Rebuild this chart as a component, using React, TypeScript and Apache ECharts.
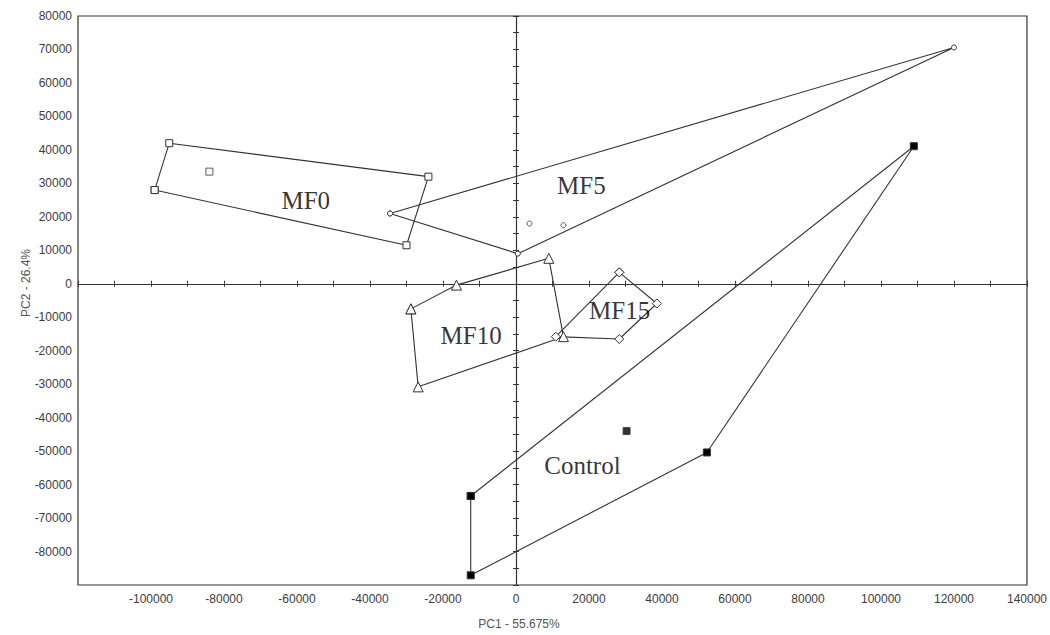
import React, { useEffect, useRef } from "react";
import * as echarts from "echarts";

// PC1 / PC2 scores
const mf0Hull = [[-99000, 28000], [-95000, 42000], [-24000, 32000], [-30000, 11500], [-99000, 28000]];
const mf0Inner = [[-84000, 33500]];
const mf5Hull = [[-34500, 21000], [120000, 70600], [500, 9000], [-34500, 21000]];
const mf5Inner = [[3700, 18000], [13000, 17500]];
const mf10Hull = [[-28800, -7500], [-16300, -400], [9000, 7600], [13000, -15800], [-26800, -30800], [-28800, -7500]];
const mf15Hull = [[28300, 3400], [38600, -5900], [28300, -16500], [10900, -15800], [28300, 3400]];
const controlHull = [[-12400, -63400], [109000, 41100], [52300, -50400], [-12400, -87100], [-12400, -63400]];
const controlInner = [[30300, -44000]];

const groupNames = ["MF0", "MF5", "MF10", "MF15", "Control"];
const groupLabelPos = [[-57600, 24900], [17900, 29300], [-12300, -15500], [28400, -8000], [18200, -54200]];

const xName = "PC1 - 55.675%";
const yName = "PC2 - 26.4%";
const xMin = -120000, xMax = 140000;
const yMin = -90000, yMax = 80000;

const LINE = "#333";
const LABEL = "#3c3c3c";

export default function App() {
  const ref = useRef<HTMLDivElement>(null);
  useEffect(() => {
    if (!ref.current) return;
    const chart = echarts.init(ref.current, undefined, { renderer: "svg" });

    const baseX = { type: "value", min: xMin, max: xMax, gridIndex: 0 };
    const baseY = { type: "value", min: yMin, max: yMax, gridIndex: 0 };
    const plain = (v: number) => String(v);

    const hullSeries = (name: string, data: number[][], symbol: string, size: number, fill: string) => ({
      name,
      type: "line",
      data,
      symbol,
      symbolSize: size,
      showAllSymbol: true,
      lineStyle: { color: LINE, width: 1.1 },
      itemStyle: { color: fill, borderColor: LINE, borderWidth: 1 },
      z: 5,
    });
    const innerSeries = (name: string, data: number[][], symbol: string, size: number, fill: string) => ({
      name: name + "-in",
      type: "scatter",
      data,
      symbol,
      symbolSize: size,
      itemStyle: { color: fill, borderColor: LINE, borderWidth: 1 },
      z: 5,
    });

    const option: any = {
      animation: false,
      backgroundColor: "#fff",
      grid: {
        left: 78, right: 22, top: 16, bottom: 50,
        show: true, borderColor: "#333", borderWidth: 1.2, backgroundColor: "transparent",
      },
      xAxis: [
        {
          ...baseX,
          interval: 20000,
          position: "bottom",
          axisLine: { show: false, onZero: false },
          axisTick: { show: false },
          splitLine: { show: false },
          axisLabel: { showMinLabel: false, formatter: plain, color: LABEL, fontFamily: "Liberation Sans, Arial", fontSize: 12, margin: 8 },
        },
        {
          ...baseX,
          interval: 10000,
          position: "bottom",
          axisLine: { show: true, onZero: true, onZeroAxisIndex: 0, lineStyle: { color: LINE, width: 1.2 } },
          axisTick: { show: true, inside: true, length: 3, lineStyle: { color: LINE } },
          axisLabel: { show: false },
          splitLine: { show: false },
        },
        {
          ...baseX,
          interval: 10000,
          position: "bottom",
          axisLine: { show: false, onZero: true, onZeroAxisIndex: 0 },
          axisTick: { show: true, inside: false, length: 3, lineStyle: { color: LINE } },
          axisLabel: { show: false },
          splitLine: { show: false },
        },
      ],
      yAxis: [
        {
          ...baseY,
          interval: 10000,
          position: "left",
          axisLine: { show: false, onZero: false },
          axisTick: { show: false },
          splitLine: { show: false },
          axisLabel: { showMinLabel: false, formatter: plain, color: LABEL, fontFamily: "Liberation Sans, Arial", fontSize: 12, margin: 6 },
        },
        {
          ...baseY,
          interval: 5000,
          position: "left",
          axisLine: { show: true, onZero: true, onZeroAxisIndex: 0, lineStyle: { color: LINE, width: 1.2 } },
          axisTick: { show: true, inside: true, length: 3, lineStyle: { color: LINE } },
          axisLabel: { show: false },
          splitLine: { show: false },
        },
        {
          ...baseY,
          interval: 5000,
          position: "left",
          axisLine: { show: false, onZero: true, onZeroAxisIndex: 0 },
          axisTick: { show: true, inside: false, length: 3, lineStyle: { color: LINE } },
          axisLabel: { show: false },
          splitLine: { show: false },
        },
      ],
      series: [
        hullSeries("MF0", mf0Hull, "rect", 7, "#fff"),
        innerSeries("MF0", mf0Inner, "rect", 7, "#fff"),
        hullSeries("MF5", mf5Hull, "circle", 5, "#fff"),
        innerSeries("MF5", mf5Inner, "circle", 5, "#fff"),
        hullSeries("MF10", mf10Hull, "triangle", 10, "#fff"),
        hullSeries("MF15", mf15Hull, "diamond", 9, "#fff"),
        hullSeries("Control", controlHull, "rect", 7, "#000"),
        innerSeries("Control", controlInner, "rect", 7, "#000"),
        {
          name: "labels",
          type: "scatter",
          symbolSize: 0,
          data: groupNames.map((n, i) => ({ name: n, value: groupLabelPos[i] })),
          itemStyle: { color: "transparent" },
          label: {
            show: true,
            position: "inside",
            formatter: (p: any) => p.name,
            fontFamily: "Liberation Serif, Times New Roman, serif",
            fontSize: 25,
            color: "#000",
            align: "center",
            verticalAlign: "middle",
          },
          z: 10,
        },
      ],
      graphic: [
        {
          type: "text",
          x: 26,
          y: 283,
          rotation: Math.PI / 2,
          style: {
            text: yName,
            fill: "#555",
            font: "12px 'Liberation Sans', Arial",
            align: "center",
            verticalAlign: "middle",
          },
        },
        {
          type: "text",
          x: 519,
          y: 624,
          style: {
            text: xName,
            fill: "#555",
            font: "12px 'Liberation Sans', Arial",
            align: "center",
            verticalAlign: "middle",
          },
        },
      ],
    };
    chart.setOption(option);
    return () => chart.dispose();
  }, []);

  return (
    <div
      ref={ref}
      style={{ position: "fixed", left: 0, top: 0, width: 1050, height: 635, background: "#fff" }}
    />
  );
}
